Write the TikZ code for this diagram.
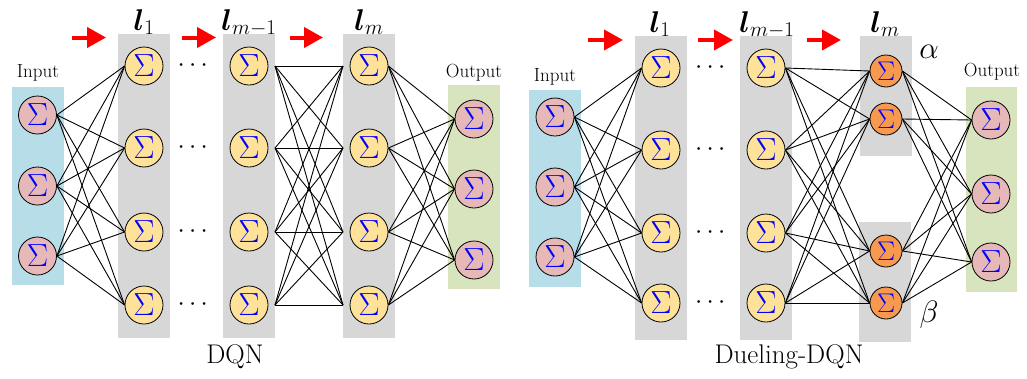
\RequirePackage{fix-cm}
\documentclass[tikz,border=0pt]{standalone}
\usepackage{amsmath}
\usetikzlibrary{arrows.meta}
\definecolor{neurY}{HTML}{FFE29A}
\definecolor{neurP}{HTML}{E6B9B8}
\definecolor{neurO}{HTML}{F79A50}
\definecolor{boxB}{HTML}{B7DDE8}
\definecolor{boxG}{HTML}{D7D7D7}
\definecolor{boxV}{HTML}{D7E4BD}
\pgfdeclarelayer{boxes}
\pgfdeclarelayer{edges}
\pgfsetlayers{boxes,edges,main}
\tikzset{
  neuron/.style={circle, draw=black, line width=0.8pt, minimum size=38pt, inner sep=0pt,
    text=blue, font=\fontsize{32}{32}\selectfont},
  hid/.style={neuron, fill=neurY},
  io/.style={neuron, fill=neurP},
  duel/.style={neuron, fill=neurO, minimum size=32pt, font=\fontsize{27}{27}\selectfont},
  inbox/.style={fill=boxB},
  colbox/.style={fill=boxG},
  outbox/.style={fill=boxV},
  link/.style={line width=0.9pt, black},
  redarrow/.style={line width=4pt, red, -{Triangle[length=19pt,width=20pt]}},
  iolabel/.style={font=\fontsize{19}{19}\selectfont},
  title/.style={font=\fontsize{27}{27}\selectfont},
  lab/.style={font=\fontsize{30}{30}\selectfont, anchor=base, inner sep=0pt},
  dotsn/.style={font=\fontsize{26}{26}\selectfont},
  greek/.style={font=\fontsize{31}{31}\selectfont},
}
\newcommand{\SG}{$\Sigma$}
\newcommand{\layl}[1]{$\boldsymbol{l}_{#1}$}
\begin{document}
\begin{tikzpicture}[x=1pt,y=-1pt]
\useasboundingbox (0,0) rectangle (1027,378);
% ---------- boxes ----------
\begin{pgfonlayer}{boxes}
\fill[inbox] (12,87) rectangle (64,285);
\fill[colbox] (118,34) rectangle (170,338);
\fill[colbox] (223,34) rectangle (275,338);
\fill[colbox] (343,34) rectangle (395,338);
\fill[outbox] (448,85) rectangle (500,289);
\fill[inbox] (529,90) rectangle (581,287);
\fill[colbox] (635,36) rectangle (687,340);
\fill[colbox] (740,36) rectangle (792,340);
\fill[colbox] (860,36) rectangle (912,156);
\fill[colbox] (859,222) rectangle (911,342);
\fill[outbox] (966,87) rectangle (1017,292);
\end{pgfonlayer}
% ---------- left: DQN ----------
\foreach \y [count=\i] in {115,186,256} \node[io] (LI\i) at (37.5,\y) {\SG};
\foreach \y [count=\i] in {66,148,232,305} {
  \node[hid] (LA\i) at (144,\y) {\SG};
  \node[dotsn] (LD\i) at (195,\y) {$\cdots$};
  \node[hid] (LB\i) at (249,\y) {\SG};
  \node[hid] (LC\i) at (369,\y) {\SG};
  \coordinate (LBr\i) at (275,\y);
  \coordinate (LCl\i) at (343,\y);
}
\foreach \y [count=\i] in {119,189,260} \node[io] (LO\i) at (474,\y) {\SG};
\node[iolabel] (LIn) at (38,73) {Input};
\node[iolabel] (LOut) at (474,73) {Output};
\node[lab] (LL1) at (144,30) {\layl{1}};
\node[lab] (LL2) at (249,30) {\layl{m-1}};
\node[lab] (LL3) at (369,30) {\layl{m}};
\node[title] (LT) at (235,357) {DQN};
\draw[redarrow] (72,37.5) -- (106,37.5);
\draw[redarrow] (182,37.5) -- (216,37.5);
\draw[redarrow] (290,37.5) -- (323,37.5);
\begin{pgfonlayer}{edges}
\foreach \i in {1,2,3} \foreach \j in {1,2,3,4} \draw[link] (LI\i.east) -- (LA\j.west);
\foreach \i in {1,2,3,4} \foreach \j in {1,2,3,4} \draw[link] (LBr\i) -- (LCl\j);
\foreach \i in {1,2,3,4} \foreach \j in {1,2,3} \draw[link] (LC\i.east) -- (LO\j.west);
\end{pgfonlayer}
% ---------- right: Dueling-DQN ----------
\foreach \y [count=\i] in {117,187,257} \node[io] (RI\i) at (555,\y) {\SG};
\foreach \y [count=\i] in {68,150,233,303} {
  \node[hid] (RA\i) at (661,\y) {\SG};
  \node[dotsn] (RD\i) at (712.5,\y) {$\cdots$};
  \node[hid] (RB\i) at (766,\y) {\SG};
}
\foreach \y [count=\i] in {71,119,251,303} \node[duel] (RC\i) at (886,\y) {\SG};
\foreach \y [count=\i] in {120,194,262} \node[io] (RO\i) at (991,\y) {\SG};
\node[iolabel] (RIn) at (555,77) {Input};
\node[iolabel] (ROut) at (992,72) {Output};
\node[lab] (RL1) at (660,32) {\layl{1}};
\node[lab] (RL2) at (767,32) {\layl{m-1}};
\node[lab] (RL3) at (885,32) {\layl{m}};
\node[greek] (RAl) at (929,52) {$\alpha$};
\node[greek] (RBe) at (929,315) {$\beta$};
\node[title] (RT) at (789,357) {Dueling-DQN};
\draw[redarrow] (588,40) -- (623,40);
\draw[redarrow] (698,40) -- (733,40);
\draw[redarrow] (807,40) -- (841,40);
\begin{pgfonlayer}{edges}
\foreach \i in {1,2,3} \foreach \j in {1,2,3,4} \draw[link] (RI\i.east) -- (RA\j.west);
\foreach \i in {1,2,3,4} \foreach \j in {1,2,3,4} \draw[link] (RB\i.east) -- (RC\j.west);
\foreach \i in {1,2,3,4} \foreach \j in {1,2,3} \draw[link] (RC\i.east) -- (RO\j.west);
\end{pgfonlayer}
\end{tikzpicture}
\end{document}
